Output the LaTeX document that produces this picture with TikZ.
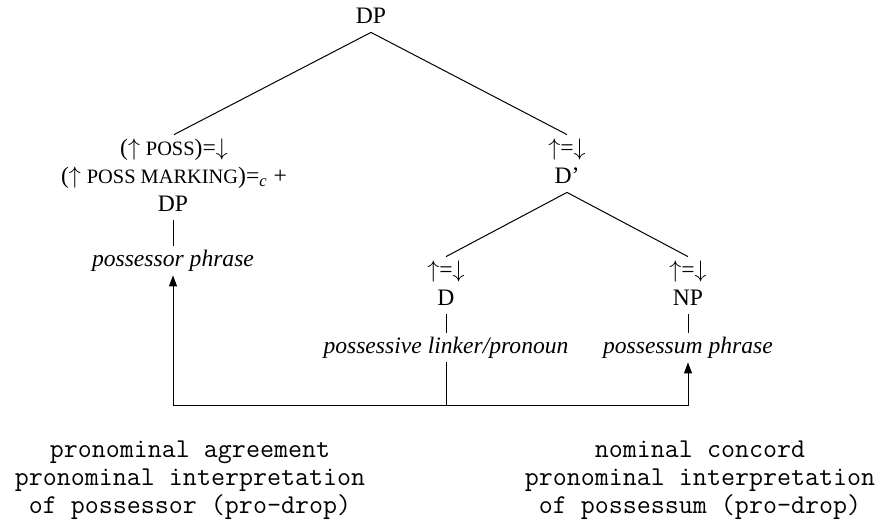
\documentclass[tikz,border=0pt]{standalone}
\usepackage{fontspec}
\setmainfont{Liberation Serif}
\usetikzlibrary{arrows.meta}
\newcommand{\featname}[1]{{\fontsize{10.2}{12}\selectfont #1}}
\newcommand{\upar}{$\uparrow$}
\newcommand{\downar}{$\downarrow$}

\begin{document}
\begin{tikzpicture}[x=0.5pt, y=-0.5pt, font=\fontsize{11.8}{14}\selectfont,
		cat/.style={inner sep=2pt, text height=0.8em, text depth=0.25em, anchor=base},
		edge/.style={line width=0.5pt},
		link/.style={line width=0.5pt, -{Triangle[width=4pt,length=5.5pt]}},
		gloss/.style={font=\fontsize{13.6}{14}\selectfont\ttfamily, align=center, inner sep=0pt, anchor=north}]
			\useasboundingbox (0,0) rectangle (875,521);
			% root and specifier
			\node[cat] (dp) at (371,23) {DP};
			\node[cat] (spec) at (174,155) {(\upar\ \featname{POSS})=\downar};
			\node[cat] (mark) at (174,183) {(\upar\ \featname{POSS MARKING})=\textsubscript{\textit{c}} +};
			\node[cat] (sdp) at (173,211) {DP};
			\node[cat] (sphr) at (173,266) {\textit{possessor phrase}};
			% head side
			\node[cat] (hfun) at (567,155) {\upar=\downar};
			\node[cat] (dbar) at (567,183) {D’};
			\node[cat] (dfun) at (446,277) {\upar=\downar};
			\node[cat] (d) at (446,305) {D};
			\node[cat] (dphr) at (446,353) {\textit{possessive linker/pronoun}};
			\node[cat] (nfun) at (688,277) {\upar=\downar};
			\node[cat] (np) at (688,305) {NP};
			\node[cat] (nphr) at (688,353) {\textit{possessum phrase}};
			\foreach \a/\b in {dp/spec, dp/hfun, dbar/dfun, dbar/nfun, sdp/sphr, d/dphr, np/nphr}
				\draw[edge] (\a.south) -- (\b.north);
			% agreement links
			\coordinate (base) at (0,405);
			\coordinate (hub) at (dphr.south |- base);
			\draw[edge] (dphr.south) -- (hub);
			\draw[link] (hub) -| (sphr.south);
			\draw[link] (hub) -| (nphr.south);
			\node[gloss] (lgloss) at (190,440) {pronominal agreement\\pronominal interpretation\\of possessor (pro-drop)};
			\node[gloss] (rgloss) at (700,440) {nominal concord\\pronominal interpretation\\of possessum (pro-drop)};
		\end{tikzpicture}
\end{document}
